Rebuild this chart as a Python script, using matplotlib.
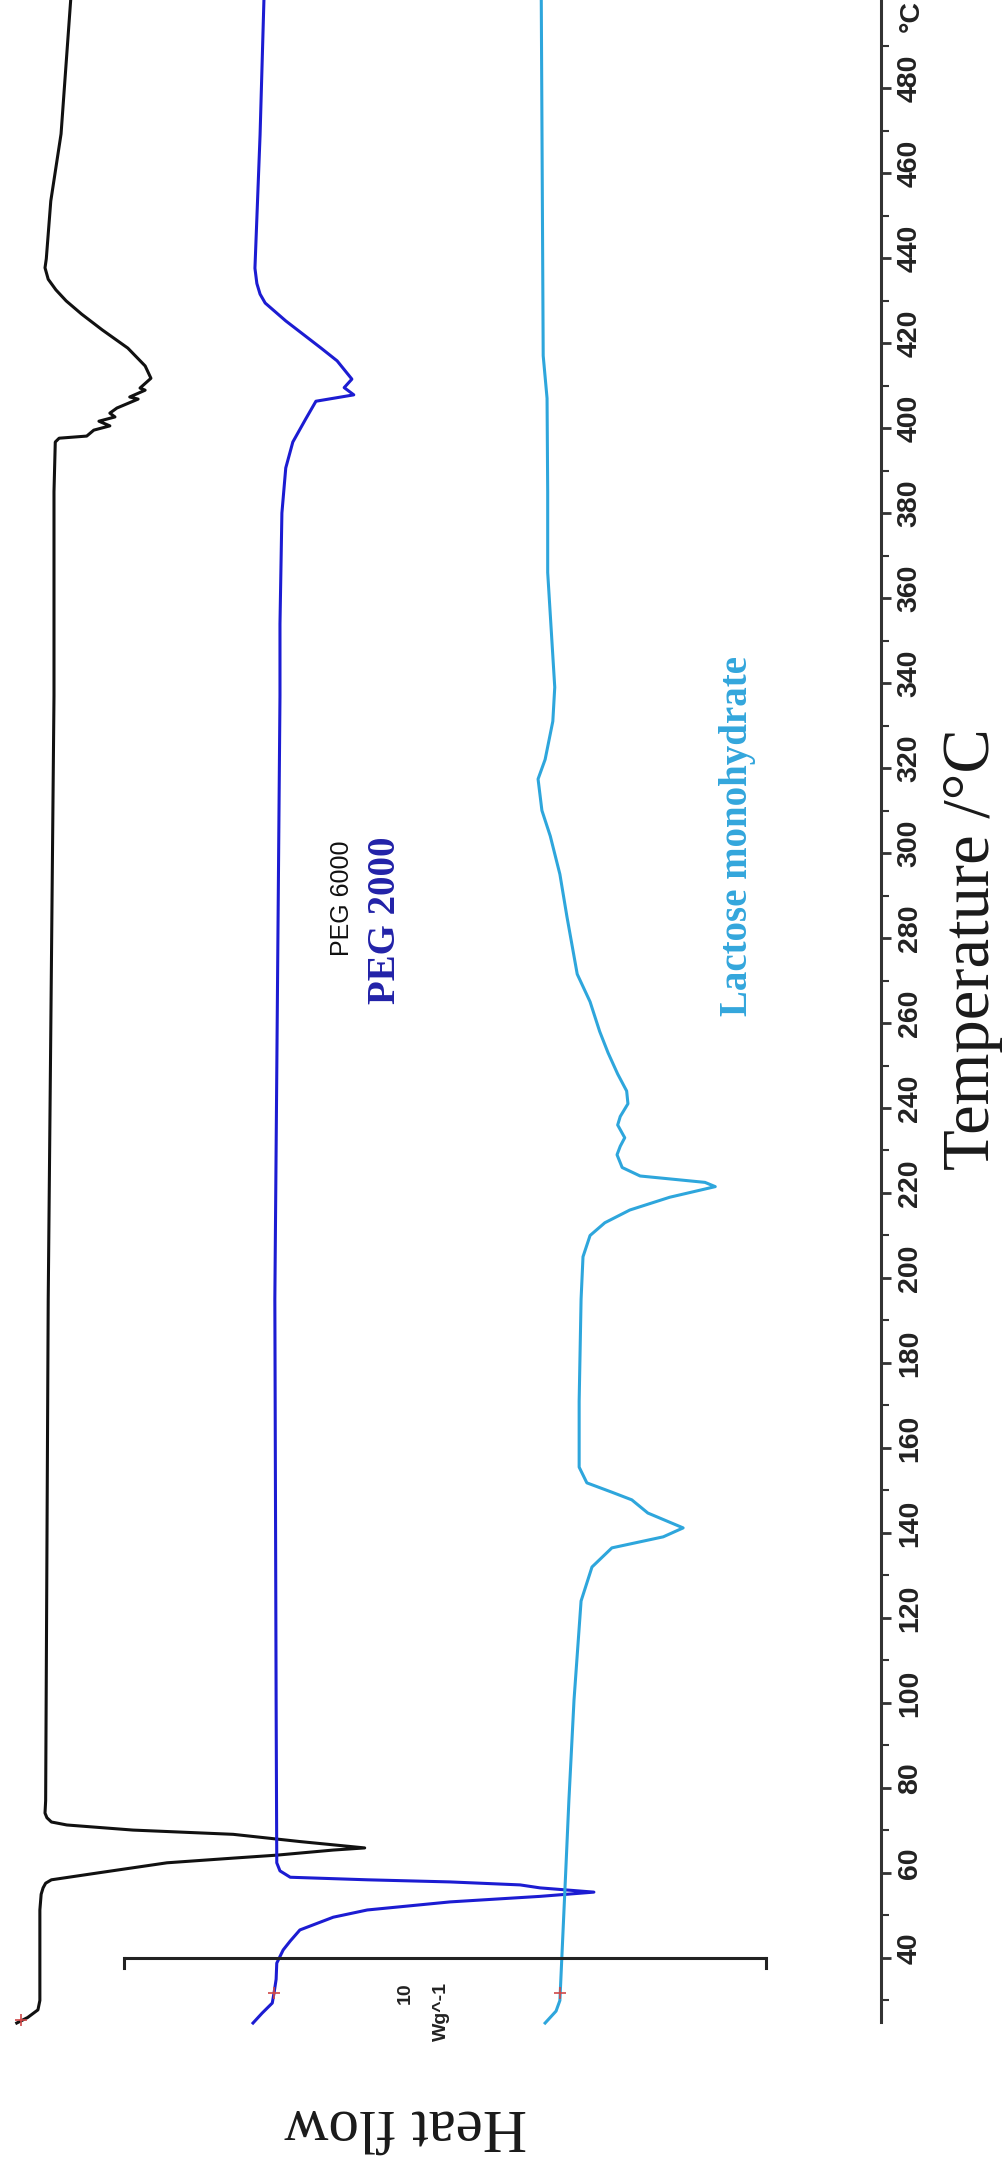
#!/usr/bin/env python3
# DSC thermograms of PEG 6000, PEG 2000 and lactose monohydrate,
# drawn the way the scanned figure shows them: temperature runs up the
# page, heat flow runs across, all the text is turned on its side.

import numpy as np
import matplotlib
matplotlib.use('Agg')
import matplotlib.pyplot as plt
from matplotlib.ticker import FixedLocator

# temperature (deg C) and heat flow (W/g, offset per curve, endo to the right)
peg6000_t = [24.7, 26, 27.8, 30, 40, 51.3, 55, 56.5, 57.6, 58.4, 60.1, 62.4,
             63.5, 64.2, 65.4, 65.9, 67.4, 69.1, 70.1, 71.3, 72.0, 73.0, 74.1,
             77, 195, 337, 385, 396.7, 397.6, 398.1, 399.5, 400.5, 401.6,
             402.6, 403.5, 404.7, 406.8, 407.3, 408.9, 409.4, 411.7, 414.6,
             418.8, 423.1, 426.8, 429.9, 432.5, 435.0, 437.7, 439.8, 453.4,
             469.2, 500.7]
peg6000_hf = [-1.67, -1.50, -1.34, -1.31, -1.31, -1.31, -1.29, -1.26, -1.22,
              -1.13, -0.37, 0.67, 1.70, 2.38, 3.26, 3.75, 2.74, 1.70, 0.14,
              -0.89, -1.13, -1.20, -1.23, -1.22, -1.18, -1.09, -1.09, -1.07,
              -1.01, -0.58, -0.47, -0.22, -0.39, -0.14, -0.22, -0.11, 0.22,
              0.09, 0.33, 0.25, 0.42, 0.33, 0.06, -0.34, -0.66, -0.90, -1.06,
              -1.18, -1.23, -1.21, -1.14, -0.98, -0.83]

peg2000_t = [24.7, 27, 29.4, 32, 35, 38.8, 41.9, 44, 46.6, 49.6, 51.3, 53.2,
             54.5, 55.5, 56.5, 57.2, 57.9, 58.4, 59.0, 60.5, 62.4, 100, 195,
             337, 353.9, 380, 390.6, 396.7, 402.1, 406.3, 407.8, 409.5, 411.5,
             415.8, 418.8, 425.2, 429.4, 431.5, 434.0, 437.6, 469, 500.7]
peg2000_hf = [2.01, 2.15, 2.31, 2.34, 2.37, 2.38, 2.48, 2.59, 2.74, 3.26,
              3.79, 5.08, 6.48, 7.32, 6.48, 6.17, 5.08, 3.79, 2.59, 2.43,
              2.38, 2.37, 2.35, 2.43, 2.43, 2.46, 2.52, 2.63, 2.83, 2.99,
              3.58, 3.43, 3.55, 3.32, 3.07, 2.52, 2.20, 2.12, 2.07, 2.04,
              2.12, 2.18]

lactose_t = [24.7, 27.5, 30, 40, 60, 77, 100.7, 124, 132, 136.5, 139.1, 141.2,
             144.7, 147.8, 149.6, 151.8, 155.5, 171, 195, 205, 210, 213, 216,
             219, 221.5, 222.5, 224, 226, 229, 231, 233, 236, 238, 241, 244,
             248, 253, 258, 265, 271.5, 285, 295, 304, 310, 317.4, 322, 331,
             339, 366, 385, 407, 417, 500.7]
lactose_hf = [6.56, 6.73, 6.79, 6.82, 6.88, 6.93, 7.01, 7.12, 7.29, 7.60,
              8.40, 8.71, 8.16, 7.91, 7.60, 7.21, 7.09, 7.09, 7.12, 7.15,
              7.26, 7.49, 7.88, 8.50, 9.21, 9.05, 8.04, 7.76, 7.68, 7.73,
              7.80, 7.69, 7.73, 7.85, 7.83, 7.69, 7.54, 7.41, 7.26, 7.06,
              6.90, 6.79, 6.64, 6.51, 6.45, 6.56, 6.68, 6.71, 6.60, 6.60,
              6.59, 6.53, 6.50]

# small red start marks left by the instrument software
mark_t = [25.5, 31.8, 31.8]
mark_hf = [-1.60, 2.33, 6.79]

temp_labels = list(range(40, 481, 20))
temp_ticks = list(range(30, 491, 10))
scale_bar = 10      # W/g
scale_bar_at = 40   # deg C

fig = plt.figure(figsize=(10.03, 21.65), dpi=100)
ax = fig.add_axes([0, 0, 1, 1])
ax.set_xlim(-1.931, 13.692)
ax.set_ylim(-8.706, 500.706)

ax.plot(peg6000_hf, peg6000_t, color='#111111', lw=2.2)
ax.plot(peg2000_hf, peg2000_t, color='#1c1cd2', lw=2.2)
ax.plot(lactose_hf, lactose_t, color='#2ea6dc', lw=2.2)
ax.plot(mark_hf, mark_t, '+', color='#d04848', ms=8, mew=1.2)

# temperature axis on the right
for side in ['top', 'bottom', 'left']:
    ax.spines[side].set_visible(False)
ax.spines['right'].set_position(('data', 11.79))
ax.spines['right'].set_bounds(25, 500.7)
ax.spines['right'].set_linewidth(2.2)
ax.spines['right'].set_color('#333333')
ax.xaxis.set_visible(False)
ax.yaxis.set_ticks_position('right')
ax.yaxis.set_major_locator(FixedLocator(temp_labels))
ax.yaxis.set_minor_locator(FixedLocator([t for t in temp_ticks
                                         if t not in temp_labels]))
ax.tick_params(axis='y', which='major', direction='out', length=7,
               width=2.0, color='#333333', labelright=False)
ax.tick_params(axis='y', which='minor', direction='out', length=6,
               width=1.5, color='#333333')

tick_font = dict(family='Liberation Sans', weight='bold', size=20.5,
                 color='#222222')
for t in temp_labels:
    ax.text(12.24, t + 2.35, str(t), rotation=90, ha='center', va='center',
            **tick_font)
ax.text(12.27, 496.9, '°C', rotation=90, ha='center', va='center',
        **tick_font)

ax.text(13.21, 277.5, 'Temperature /°C', rotation=90, ha='center',
        va='center', family='Liberation Serif', size=48, color='#1a1a1a')
ax.text(4.39, 0.7, 'Heat flow', rotation=180, ha='center', va='center',
        family='Liberation Serif', size=44, color='#1a1a1a')

# 10 W/g scale bar
ax.plot([0, scale_bar], [scale_bar_at, scale_bar_at], color='#222222',
        lw=2.2, solid_capstyle='butt')
for xb in [0, scale_bar]:
    ax.plot([xb, xb], [scale_bar_at, scale_bar_at - 2.4], color='#222222',
            lw=2.2)
ax.text(4.38, 34.35, '10', rotation=90, ha='center', va='top',
        family='Liberation Sans', weight='bold', size=14, color='#222222')
ax.text(4.95, 34.35, 'Wg^-1', rotation=90, ha='center', va='top',
        family='Liberation Sans', weight='bold', size=14, color='#222222')

# curve names
ax.text(3.40, 289.4, 'PEG 6000', rotation=90, ha='center', va='center',
        family='Liberation Sans', size=18, color='#111111')
ax.text(4.07, 284.2, 'PEG 2000', rotation=90, ha='center', va='center',
        family='Liberation Serif', weight='bold', size=28, color='#2222a8')
ax.text(9.55, 346.4, 'Lactose monohydrate', rotation=90, ha='center',
        va='top', family='Liberation Serif', weight='bold', size=28,
        color='#33a6dc')

plt.savefig('out.png', dpi=100)
